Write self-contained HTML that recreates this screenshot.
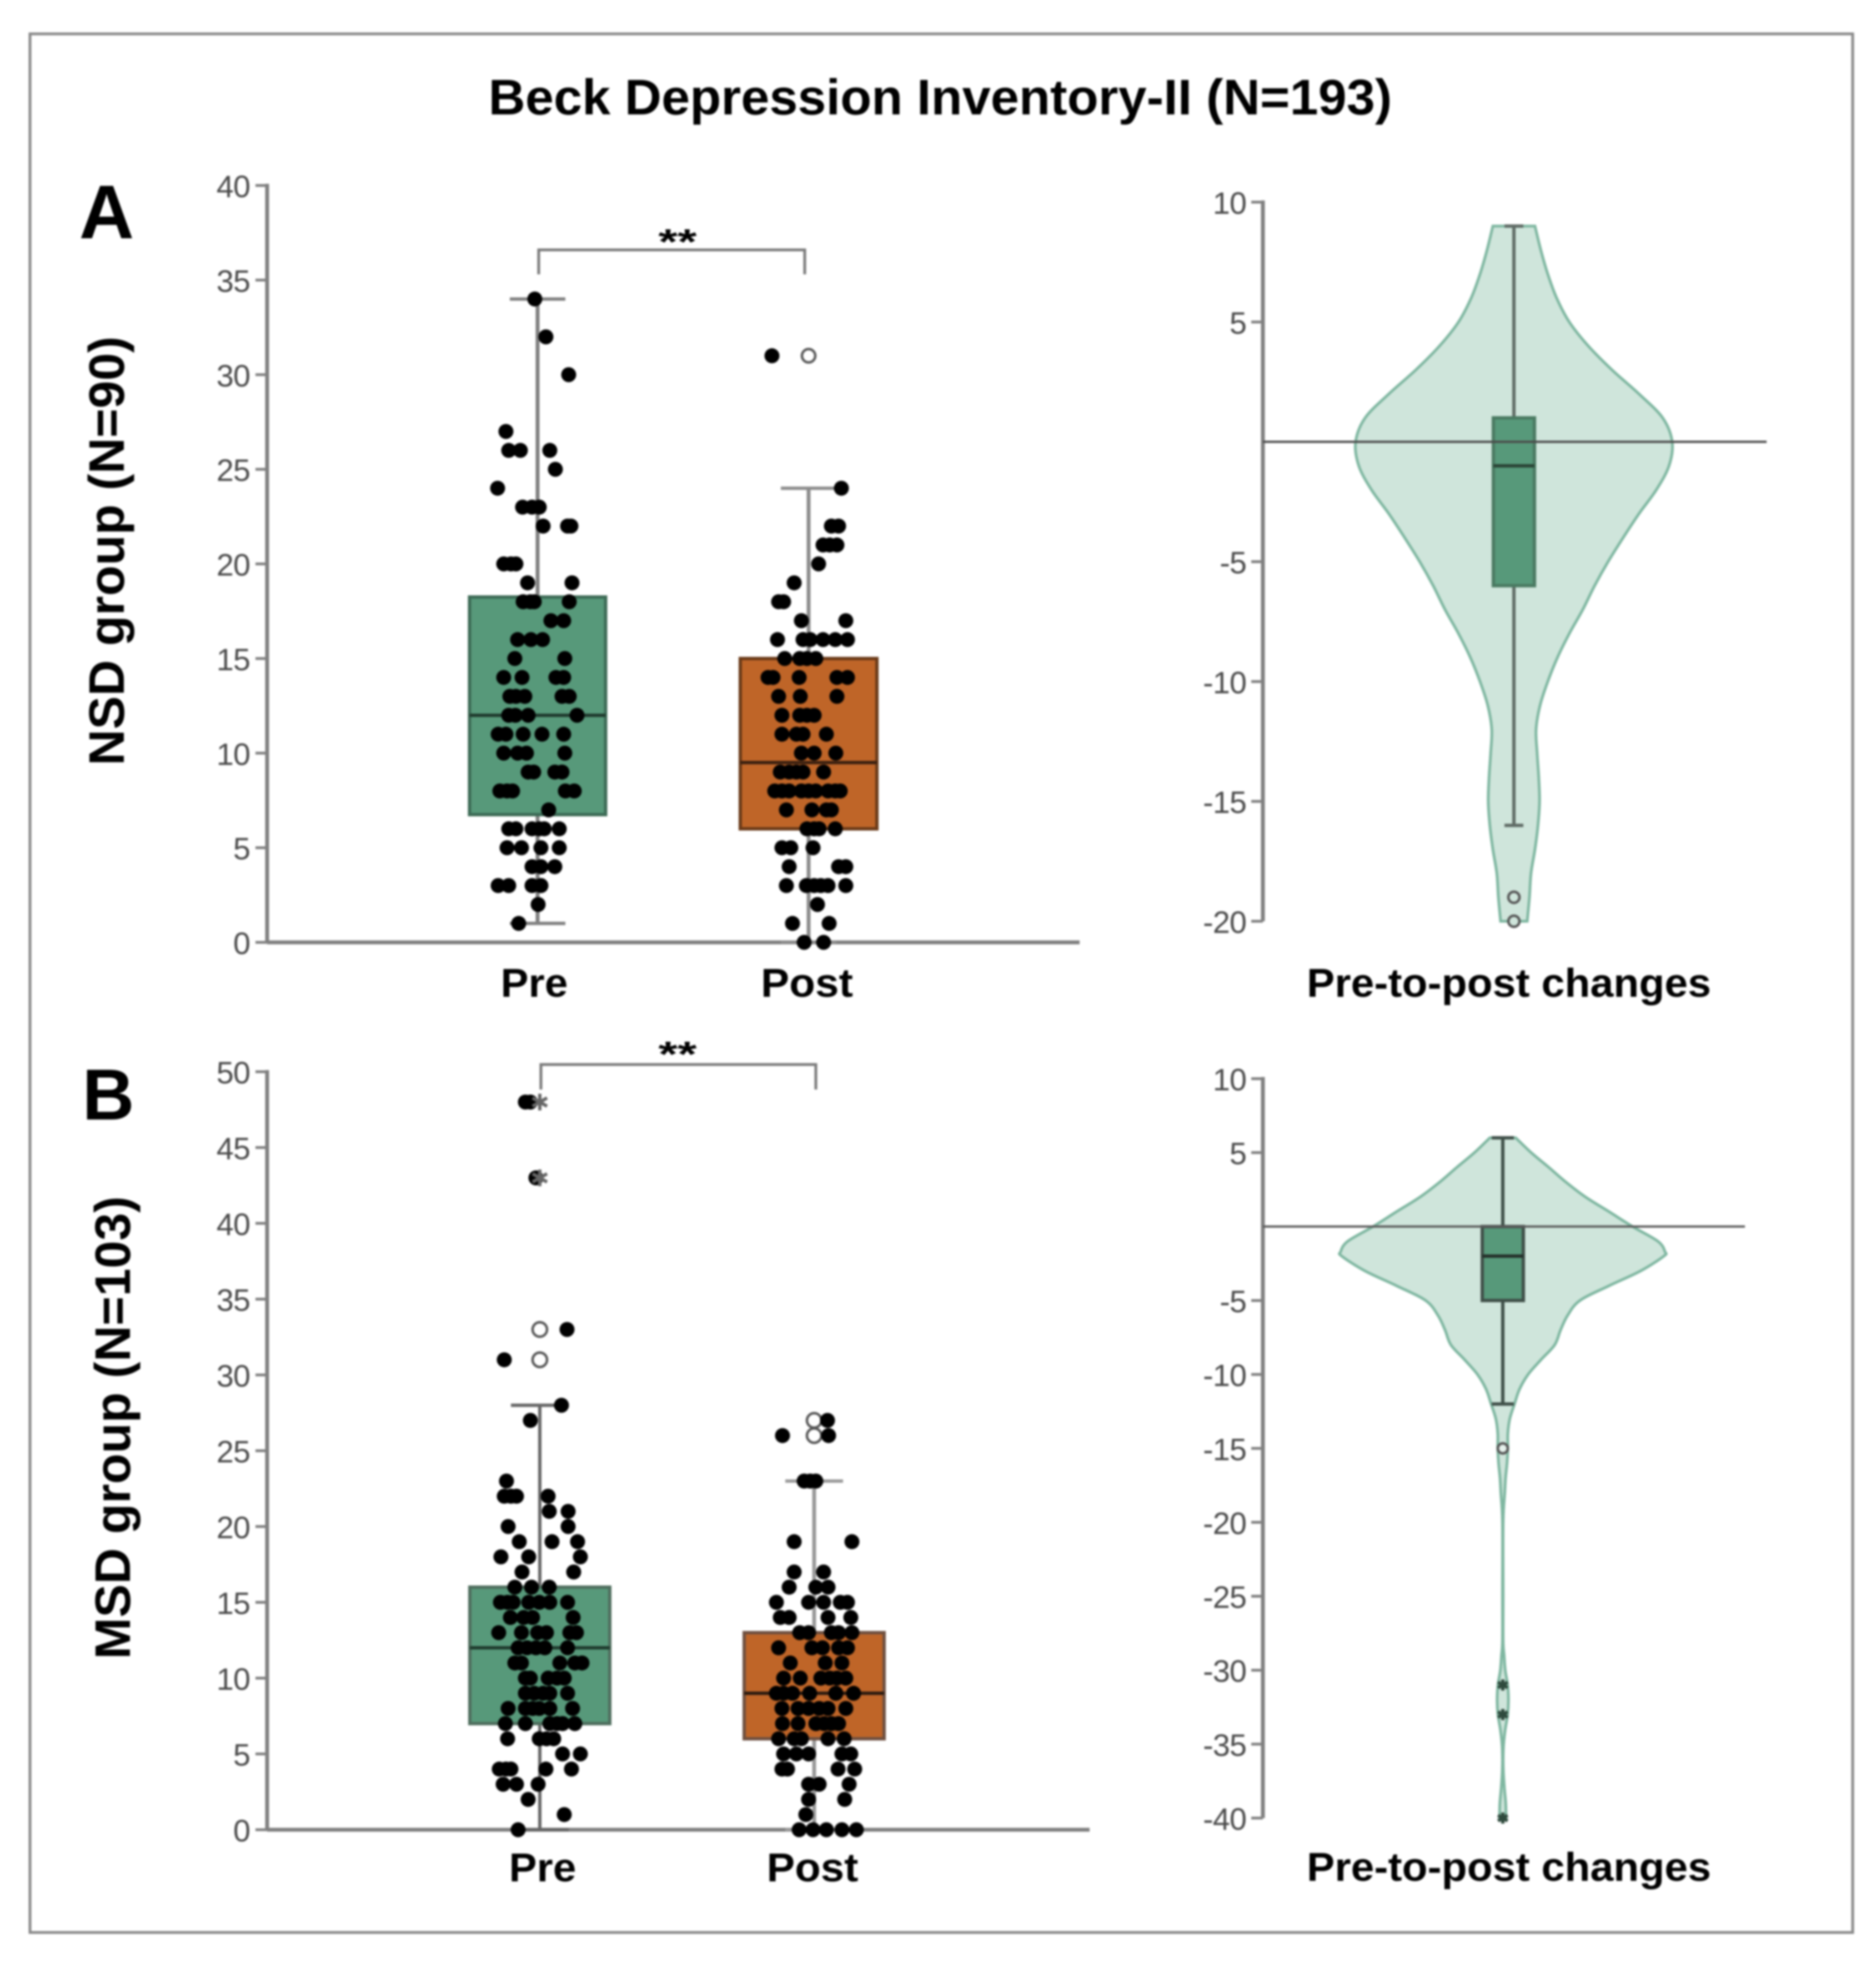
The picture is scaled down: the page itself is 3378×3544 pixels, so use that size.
<!DOCTYPE html>
<html><head><meta charset="utf-8"><title>Beck Depression Inventory-II</title>
<style>html,body{margin:0;padding:0;background:#fff}svg{display:block;filter:blur(1.8px)}
text{font-family:"Liberation Sans",sans-serif}
.big{font-weight:bold;fill:#000}.tick{font-size:56px;fill:#4a4a4a;letter-spacing:-1px;text-anchor:end}</style></head>
<body>
<svg id="fig" xmlns="http://www.w3.org/2000/svg" width="3378" height="3544" viewBox="0 0 3378 3544">
<rect width="3378" height="3544" fill="#fff"/>
<rect x="54" y="61" width="3282" height="3419" fill="none" stroke="#8a8a8a" stroke-width="5"/>
<text class="big" x="1693" y="206" font-size="90" text-anchor="middle" textLength="1627" lengthAdjust="spacingAndGlyphs">Beck Depression Inventory-II (N=193)</text>
<text class="big" x="192" y="429" font-size="137" text-anchor="middle">A</text>
<text class="big" x="195" y="2016" font-size="130" text-anchor="middle">B</text>
<text class="big" transform="translate(223,992) rotate(-90)" font-size="90" text-anchor="middle" textLength="773" lengthAdjust="spacingAndGlyphs">NSD group (N=90)</text>
<text class="big" transform="translate(234,2571) rotate(-90)" font-size="90" text-anchor="middle" textLength="834" lengthAdjust="spacingAndGlyphs">MSD group (N=103)</text>
<text class="big" x="962" y="1795" font-size="72" text-anchor="middle" textLength="121" lengthAdjust="spacingAndGlyphs">Pre</text>
<text class="big" x="1453" y="1795" font-size="72" text-anchor="middle" textLength="166" lengthAdjust="spacingAndGlyphs">Post</text>
<text class="big" x="977" y="3388" font-size="72" text-anchor="middle" textLength="121" lengthAdjust="spacingAndGlyphs">Pre</text>
<text class="big" x="1463" y="3388" font-size="72" text-anchor="middle" textLength="165" lengthAdjust="spacingAndGlyphs">Post</text>
<text class="big" x="2717" y="1795" font-size="72" text-anchor="middle" textLength="728" lengthAdjust="spacingAndGlyphs">Pre-to-post changes</text>
<text class="big" x="2717" y="3387" font-size="72" text-anchor="middle" textLength="728" lengthAdjust="spacingAndGlyphs">Pre-to-post changes</text>
<text x="1220" y="457" font-size="64" font-weight="bold" text-anchor="middle" textLength="69" lengthAdjust="spacingAndGlyphs">**</text>
<text x="1220" y="1920" font-size="64" font-weight="bold" text-anchor="middle" textLength="69" lengthAdjust="spacingAndGlyphs">**</text>
</svg>
<script>
// ---- tick labels ----
const ticksA = [0,5,10,15,20,25,30,35,40];
const ticksB = [0,5,10,15,20,25,30,35,40,45,50];
const ticksViolinA = [10,5,-5,-10,-15,-20];
const ticksViolinB = [10,5,-5,-10,-15,-20,-25,-30,-35,-40];

// ---- box statistics: whisker low, Q1, median, Q3, whisker high ----
const statsPreA = [1,6.75,12,18.25,34];
const statsPostA = [0,6,9.5,15,24];
const statsPreB = [0,7,12,16,28];
const statsPostB = [0,6,9,13,23];
const statsViolinA = [-16,-6,-1,1,9];
const statsViolinB = [-12,-5,-2,0,6];

// ---- outliers ----
const openPostA = [31];
const openPreB = [33,31];
const starPreB = [48,43];
const openPostB = [27,26];
const openViolinA = [-19,-20];
const openViolinB = [-15];
const starViolinB = [-31,-33,-40];

// ---- individual scores with swarm jitter ----
const preAValues = [34,32,30,27,26,26,26,25,24,23,23,23,22,22,22,20,20,20,19,19,18,18,18,18,17,17,16,16,16,15,15,14,14,14,14,13,13,13,13,13,12,12,12,12,11,11,11,11,11,10,10,10,10,9,9,9,9,8,8,8,8,8,7,6,6,6,6,6,6,5,5,5,5,4,4,4,3,3,3,3,2,1];
const preAJitter = [-5,15,56,-57,-52,-31,22,32,-72,-27,-10,3,10,54,60,-61,-48,-39,-18,62,-26,-13,-6,57,24,47,-36,-12,9,-41,49,-61,-28,33,47,-50,-39,-23,44,57,-52,-40,-17,71,-71,-57,-26,8,47,-61,-36,-20,49,-17,-7,31,44,-68,-55,-45,50,66,20,-52,-39,-10,3,12,39,-55,-29,6,39,-10,6,31,-71,-52,-10,6,1,-34];

const postAValues = [31,24,22,22,21,21,21,20,19,18,18,17,17,16,16,16,16,16,16,15,15,15,15,14,14,14,14,14,13,13,13,12,12,12,12,11,11,11,11,10,10,10,9,9,9,9,9,8,8,8,8,8,8,8,8,8,7,7,7,7,6,6,6,6,5,5,5,4,4,4,3,3,3,3,3,3,2,1,1,0,0];
const postAJitter = [-66,59,41,54,26,38,51,18,-26,-54,-45,-13,67,-56,-10,3,26,48,70,-43,-16,-3,13,-73,-64,-17,51,70,-54,-15,51,-48,-16,-3,10,-48,-22,-10,32,-13,10,49,-51,-35,-22,-10,27,-61,-48,-35,-13,0,13,35,48,57,-40,6,32,41,-3,10,19,48,-48,-32,8,-35,54,67,-40,-4,10,22,35,67,16,-29,37,-8,27];

const preBValues = [48,48,43,33,31,28,27,23,22,22,22,22,21,21,20,20,19,19,19,18,18,18,17,17,16,16,16,15,15,15,15,15,15,15,14,14,14,14,13,13,13,13,13,13,12,12,12,12,12,11,11,11,11,11,10,10,10,10,10,9,9,9,9,9,8,8,8,8,8,8,7,7,7,7,7,7,6,6,6,6,5,5,4,4,4,4,4,3,3,3,2,1,0];
const preBJitter = [-26,-17,-7,49,-64,39,-17,-60,-64,-52,-42,15,17,51,-57,51,-37,22,68,-70,-20,73,-32,61,-45,-15,17,-71,-58,-48,-20,-1,18,50,-53,-29,-13,60,-74,-33,-4,12,54,66,-39,-23,-7,9,50,-45,-33,36,63,76,-26,-17,15,31,44,-26,-10,6,18,50,-57,-26,-13,-1,18,59,-62,-26,18,31,41,63,-58,-1,12,25,41,73,-73,-61,-52,11,57,-66,-42,-3,-21,44,-39];

const postBValues = [27,26,26,23,23,23,19,19,17,17,16,16,16,15,15,15,15,15,14,14,14,14,13,13,13,13,13,12,12,12,12,12,11,11,11,10,10,10,10,10,10,9,9,9,9,9,9,8,8,8,8,8,8,7,7,7,7,7,7,6,6,6,6,6,5,5,5,5,5,4,4,4,4,3,3,3,2,2,1,0,0,0,0,0];
const postBJitter = [24,26,-57,-18,-7,3,-36,68,-36,17,-45,3,25,-68,-10,17,47,60,-61,-45,25,66,-26,-10,31,44,68,-64,-4,15,44,60,-43,20,50,-55,-25,12,28,41,57,-68,-55,-39,-8,39,71,-58,-29,-10,9,25,57,-57,-29,3,18,31,44,-64,-36,-23,25,54,-55,-32,-10,50,66,-58,-48,43,73,-10,9,63,-10,55,-15,-27,-2,22,50,76];

// ---- violin densities (relative to peak) ----
const violinAValues = [9,8,7,6,5,4,3,2,1,0,-1,-2,-3,-4,-5,-6,-7,-8,-9,-10,-11,-12,-13,-14,-15,-16,-17,-18,-19,-20];
const violinADensity = [.133,.17,.214,.27,.35,.47,.62,.79,.94,1,.98,.9,.79,.69,.595,.51,.435,.35,.275,.214,.165,.14,.147,.157,.162,.152,.133,.108,.098,.084];
const violinBValues = [6,5,4,3,2,1,0,-1,-1.7,-2,-3,-4,-5,-6,-7,-8,-9,-10,-11,-12,-13,-14,-15,-16,-17,-18,-20,-25,-28,-29,-30,-31,-32,-33,-34,-35,-36,-37,-38,-39,-40];
const violinBDensity = [.08,.175,.284,.39,.51,.656,.8,.957,1,.993,.85,.656,.476,.4,.356,.32,.236,.156,.103,.072,.043,.031,.031,.026,.017,.012,.002,.002,.002,.008,.015,.03,.035,.03,.015,.005,.002,.004,.01,.018,.02];

const NS = 'http://www.w3.org/2000/svg';
const svg = document.getElementById('fig');
function linear(d0,d1,r0,r1){return v=>r0+(v-d0)/(d1-d0)*(r1-r0);}
function el(tag,attrs){const e=document.createElementNS(NS,tag);for(const k in attrs)e.setAttribute(k,attrs[k]);svg.appendChild(e);return e;}
const yA = linear(0,40,1697,334);
const yB = linear(0,50,3295,1930);
const yVA = linear(-20,10,1659,364);
const yVB = linear(-40,10,3274,1942.5);
const SWARM_UNIT = 1;

function segment(x1,y1,x2,y2,color,width,name){
  const l=el('line',{x1,y1,x2,y2,stroke:color,'stroke-width':width});
  
  
  return l;
}
function drawAxis(y,ticks,axisX,yMaxV,yMinV,xEnd,labelX,prefix){
  segment(axisX,y(yMinV),axisX,y(yMaxV)-3,'#808080',7,prefix+'-y-axis-line');
  if(xEnd) segment(axisX,y(yMinV),xEnd,y(yMinV),'#808080',7,prefix+'-x-axis-line');
  ticks.forEach(t=>{
    segment(axisX-21,y(t),axisX,y(t),'#808080',5,prefix+'-y-tick');
    const s=el('text',{x:labelX,y:y(t)+21,class:'tick'});
    
    
    s.textContent=t;
  });
}
function drawBox(y,cx,halfW,capHalf,stats,fill,edge,medianColor,wColor,wWidth,prefix){
  const [lo,q1,med,q3,hi]=stats;
  segment(cx,y(lo),cx,y(hi),wColor,wWidth,prefix+'-whisker');
  segment(cx-capHalf,y(hi),cx+capHalf,y(hi),wColor,6,prefix+'-upper-cap');
  segment(cx-capHalf,y(lo),cx+capHalf,y(lo),wColor,6,prefix+'-lower-cap');
  const r=el('rect',{x:cx-halfW,y:y(q3),width:2*halfW,height:y(q1)-y(q3),fill,stroke:edge,'stroke-width':6});
  
  
  segment(cx-halfW,y(med),cx+halfW,y(med),medianColor,6,prefix+'-median');
}
function drawDots(y,cx,values,jitter,prefix){
  values.forEach((v,i)=>{
    const c=el('circle',{cx:cx+jitter[i]*SWARM_UNIT,cy:y(v),r:13.5,fill:'#000'});
    
    
  });
}
function drawOpen(y,cx,values,r,fill,prefix){
  values.forEach(v=>{
    const c=el('circle',{cx,cy:y(v),r,fill,stroke:'#555','stroke-width':4.5});
    
    
  });
}
function drawStar(y,cx,values,size,color,prefix){
  values.forEach(v=>{
    const cy=y(v);
    [[0,1],[.87,.5],[.87,-.5]].forEach(d=>{
      segment(cx-d[0]*size,cy-d[1]*size,cx+d[0]*size,cy+d[1]*size,color,6,prefix+'-extreme-star');
    });
  });
}
function drawBracket(x1,x2,yTop,yEnd,prefix){
  const p=el('path',{d:`M${x1} ${yEnd}V${yTop}H${x2}V${yEnd}`,fill:'none',stroke:'#7a7a7a','stroke-width':5});
  
  
}
function smoothPath(pts){
  let d=`L${pts[0][0]} ${pts[0][1]}`;
  for(let i=0;i<pts.length-1;i++){
    const p0=pts[Math.max(i-1,0)],p1=pts[i],p2=pts[i+1],p3=pts[Math.min(i+2,pts.length-1)];
    d+=`C${p1[0]+(p2[0]-p0[0])/6} ${p1[1]+(p2[1]-p0[1])/6} ${p2[0]-(p3[0]-p1[0])/6} ${p2[1]-(p3[1]-p1[1])/6} ${p2[0]} ${p2[1]}`;
  }
  return d;
}
function drawViolin(y,cx,maxHalf,values,density,prefix){
  const left=values.map((v,i)=>[cx-density[i]*maxHalf,y(v)]);
  const right=values.map((v,i)=>[cx+density[i]*maxHalf,y(v)]).reverse();
  const d='M'+smoothPath(left).slice(1)+smoothPath(right)+'Z';
  const p=el('path',{d,fill:'#cfe5db',stroke:'#7fb7a1','stroke-width':5});
  
  
}

// Panel A left
drawAxis(yA,ticksA,481,40,0,1944,450,'nsd');
drawBox(yA,968,122.5,50,statsPreA,'#57997a','#3d6b56','#1f3a2d','#808080',7,'nsd-pre');
drawBox(yA,1456,123,50,statsPostA,'#bf6528','#6b3a18','#3a2010','#8c8c8c',7,'nsd-post');
drawOpen(yA,1456,openPostA,12,'#fff','nsd-post');
drawDots(yA,968,preAValues,preAJitter,'nsd-pre');
drawDots(yA,1456,postAValues,postAJitter,'nsd-post');
drawBracket(970,1449,450,494,'nsd');

// Panel B left
drawAxis(yB,ticksB,481,50,0,1962,450,'msd');
drawBox(yB,972,126,52,statsPreB,'#57997a','#4f6e5e','#1f3a2d','#666',6,'msd-pre');
drawBox(yB,1466,126,52,statsPostB,'#bf6528','#6f5040','#2a1a10','#999',7,'msd-post');
drawOpen(yB,972,openPreB,13,'#fff','msd-pre');
drawOpen(yB,1466,openPostB,13,'#fff','msd-post');
drawDots(yB,972,preBValues,preBJitter,'msd-pre');
drawDots(yB,1466,postBValues,postBJitter,'msd-post');
drawStar(yB,972,starPreB,15,'#666','msd-pre');
drawBracket(974,1469,1917,1962,'msd');

// Panel A violin
drawAxis(yVA,ticksViolinA,2274,10,-20,0,2244,'nsd-change');
drawViolin(yVA,2726,285,violinAValues,violinADensity,'nsd-change');
drawBox(yVA,2726,37,17,statsViolinA,'#57997a','#4a7a62','#2a4436','#5f6b65',6,'nsd-change');
drawOpen(yVA,2726,openViolinA,10,'#cfe5db','nsd-change');
segment(2274,yVA(0),3181,yVA(0),'#4a4a4a',4,'nsd-change-zero-line');

// Panel B violin
drawAxis(yVB,ticksViolinB,2274,10,-40,0,2244,'msd-change');
drawViolin(yVB,2706,292,violinBValues,violinBDensity,'msd-change');
drawBox(yVB,2706,37,20,statsViolinB,'#57997a','#3f4f48','#24302a','#3f4f48',6,'msd-change');
drawOpen(yVB,2706,openViolinB,9,'#e6f1ec','msd-change');
drawStar(yVB,2706,starViolinB,10,'#2f4a3d','msd-change');
segment(2274,yVB(0),3142,yVB(0),'#5a5a5a',4,'msd-change-zero-line');
</script>
</body></html>
